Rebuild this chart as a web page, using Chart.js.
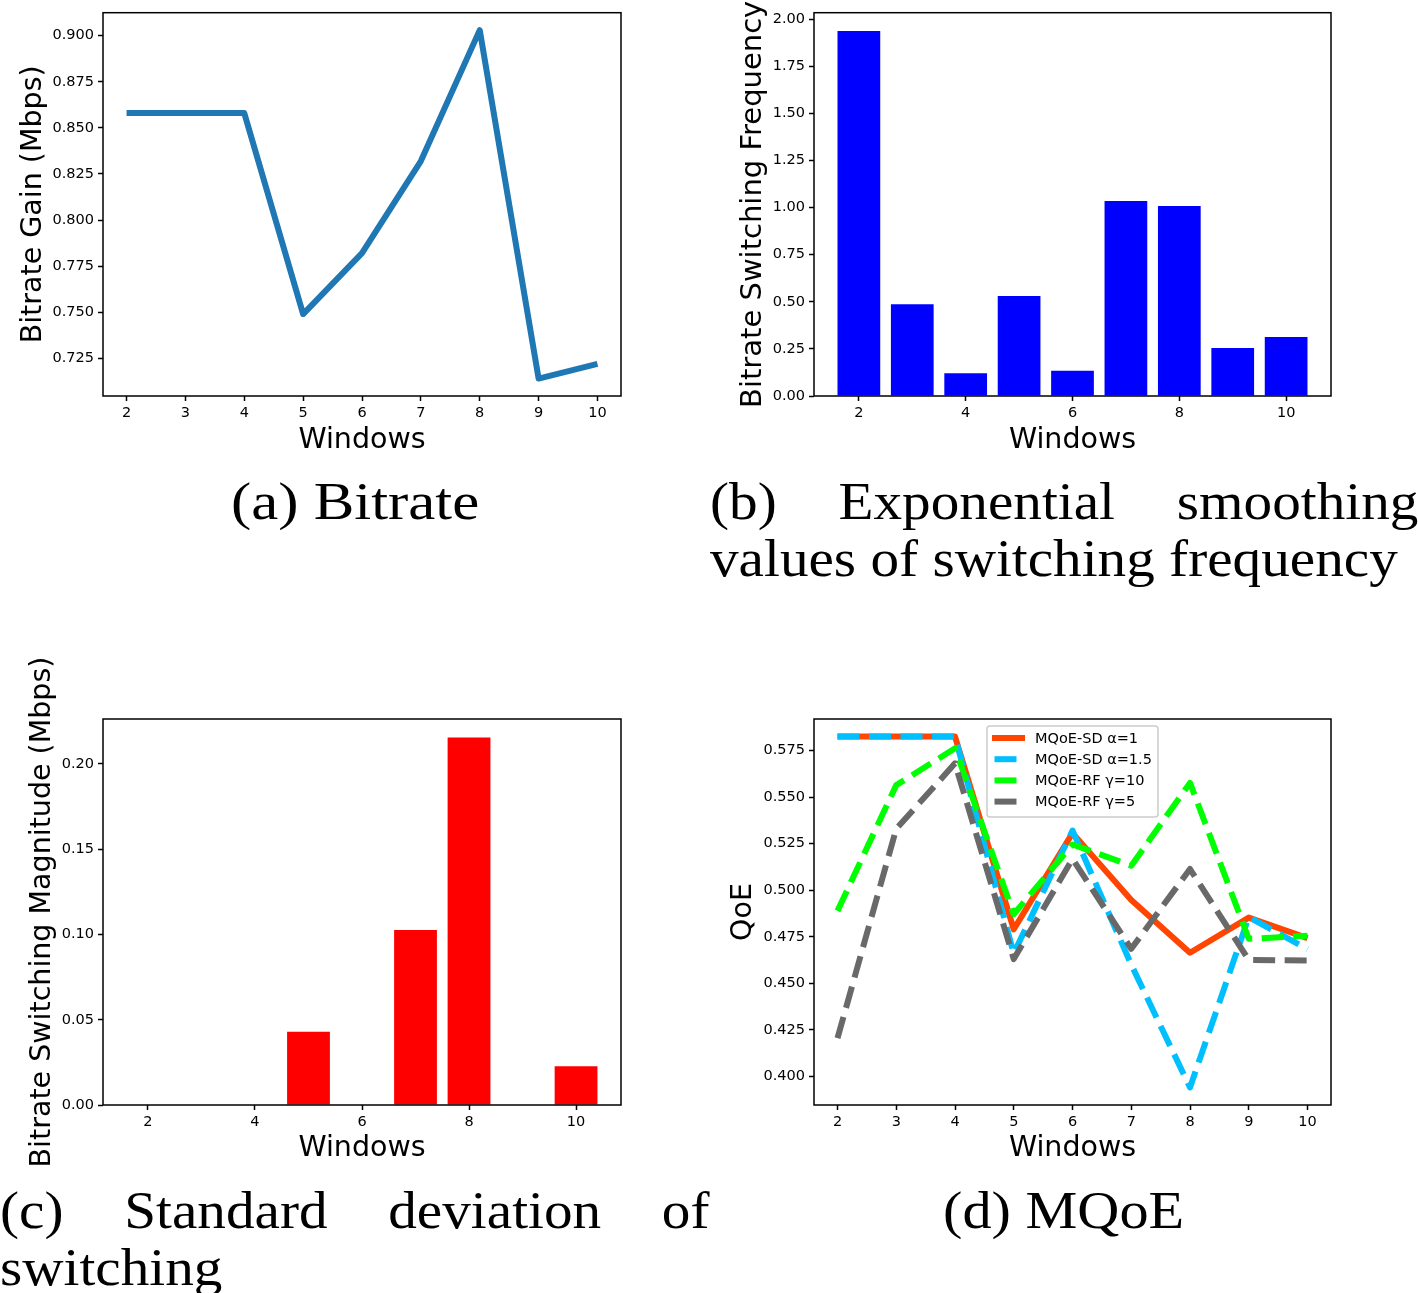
<!DOCTYPE html>
<html>
<head>
<meta charset="utf-8">
<script src="https://cdn.jsdelivr.net/npm/chart.js@4.4.1/dist/chart.umd.min.js"></script>
<style>
  body { margin: 0; background: #fff; width: 1418px; height: 1293px; position: relative; overflow: hidden; }
  canvas { position: absolute; }
  .cap { position: absolute; font-family: "Liberation Serif", serif; font-size: 52px; line-height: 57px; color: #000; }
  .cap.center { text-align: center; }
  .cap.center span { display: inline-block; }
  .cap.just { text-align: justify; transform: scaleX(1.1); transform-origin: left top; }
</style>
</head>
<body>
<canvas id="gainChart" width="660" height="470" style="left:0px;top:0px"></canvas>
<canvas id="freqChart" width="660" height="470" style="left:700px;top:0px"></canvas>
<canvas id="magChart" width="660" height="540" style="left:0px;top:640px"></canvas>
<canvas id="qoeChart" width="660" height="540" style="left:700px;top:640px"></canvas>

<div class="cap center" style="left:0px;top:473px;width:710px"><span style="transform:scaleX(1.17)">(a) Bitrate</span></div>
<div class="cap just" style="left:710px;top:473px;width:644px">(b) Exponential smoothing values of switching frequency</div>
<div class="cap just" style="left:0px;top:1182px;width:645px">(c) Standard deviation of switching</div>
<div class="cap center" style="left:710px;top:1182px;width:708px"><span style="transform:scaleX(1.12)">(d) MQoE</span></div>

<script>
// data
const windows = [2, 3, 4, 5, 6, 7, 8, 9, 10];
const bitrateGain = [0.858, 0.858, 0.858, 0.749, 0.782, 0.832, 0.903, 0.714, 0.722];
const switchFreq = [1.938, 0.487, 0.121, 0.531, 0.134, 1.035, 1.009, 0.255, 0.313];
const switchMag = [0, 0, 0, 0.043, 0, 0.1026, 0.2156, 0, 0.0227];
const qoeSD1 = [0.5826, 0.5826, 0.5826, 0.479, 0.5307, 0.4947, 0.4664, 0.4853, 0.4743];
const qoeSD15 = [0.5826, 0.5826, 0.5826, 0.466, 0.5321, 0.46, 0.394, 0.4856, 0.4683];
const qoeRF10 = [0.4889, 0.5565, 0.5763, 0.4871, 0.5246, 0.5132, 0.5577, 0.4739, 0.4755];
const qoeRF5 = [0.4205, 0.533, 0.5682, 0.463, 0.5168, 0.4685, 0.5114, 0.4625, 0.4622];
const qoeLabels = ["MQoE-SD α=1", "MQoE-SD α=1.5", "MQoE-RF γ=10", "MQoE-RF γ=5"];

// tick labels
const xTicksAll = [2, 3, 4, 5, 6, 7, 8, 9, 10];
const xTicksEven = [2, 4, 6, 8, 10];
const yTicksGain = [0.725, 0.75, 0.775, 0.8, 0.825, 0.85, 0.875, 0.9];
const yTicksFreq = [0, 0.25, 0.5, 0.75, 1.0, 1.25, 1.5, 1.75, 2.0];
const yTicksMag = [0, 0.05, 0.1, 0.15, 0.2];
const yTicksQoe = [0.4, 0.425, 0.45, 0.475, 0.5, 0.525, 0.55, 0.575];

Chart.defaults.font.family = "'DejaVu Sans', sans-serif";
Chart.defaults.color = "#000";

function points(ys) {
  return windows.map((w, i) => ({ x: w, y: ys[i] }));
}

// matplotlib style 5% margins
function lineRange(vals) {
  const lo = Math.min(...vals), hi = Math.max(...vals);
  const m = (hi - lo) * 0.05;
  return [lo - m, hi + m];
}

// box frame round the plot area
const framePlugin = {
  id: "frame",
  afterDraw(chart) {
    const { ctx, chartArea: a } = chart;
    ctx.save();
    ctx.strokeStyle = "#000";
    ctx.lineWidth = 1.5;
    ctx.strokeRect(a.left, a.top, a.right - a.left, a.bottom - a.top);
    ctx.restore();
  },
};

function makeScales(box) {
  const tickGrid = {
    display: true,
    drawOnChartArea: false,
    drawTicks: true,
    tickLength: 5,
    tickWidth: 1.5,
    tickColor: "#000",
    offset: false,
  };
  return {
    x: {
      type: "linear",
      bounds: "data",
      offset: false,
      min: box.xRange[0],
      max: box.xRange[1],
      afterBuildTicks: (s) => { s.ticks = box.xTicks.map((v) => ({ value: v })); },
      afterFit: (s) => { s.height = box.xh; },
      grid: tickGrid,
      border: { display: false },
      ticks: { font: { size: 14.5 }, padding: 4, maxRotation: 0, autoSkip: false, callback: (v) => String(v) },
      title: { display: true, text: "Windows", font: { size: 28.5 }, padding: { top: 0, bottom: box.xTitlePad } },
    },
    y: {
      type: "linear",
      bounds: "data",
      min: box.yRange[0],
      max: box.yRange[1],
      afterBuildTicks: (s) => { s.ticks = box.yTicks.map((v) => ({ value: v })); },
      afterFit: (s) => { s.width = box.yw; },
      grid: tickGrid,
      border: { display: false },
      ticks: { font: { size: 14.5 }, padding: 4, autoSkip: false, callback: (v) => v.toFixed(box.digits) },
      title: { display: true, text: box.yTitle, font: { size: box.yTitleSize || 28.5 }, padding: { top: box.yTitlePad, bottom: 0 } },
    },
  };
}

const baseOptions = (box) => ({
  responsive: false,
  animation: false,
  devicePixelRatio: 1,
  layout: { padding: { top: box.top, right: box.right, bottom: 0, left: 0 } },
  plugins: { legend: { display: false }, tooltip: { enabled: false } },
  scales: makeScales(box),
});

// (a) bitrate gain
function renderGainChart() {
  const box = {
    top: 11, right: 39, yw: 103, xh: 74, xTitlePad: 12, yTitlePad: 16,
    xRange: lineRange(windows), yRange: lineRange(bitrateGain),
    xTicks: xTicksAll, yTicks: yTicksGain, digits: 3, yTitle: "Bitrate Gain (Mbps)",
  };
  new Chart(document.getElementById("gainChart").getContext("2d"), {
    type: "line",
    data: {
      datasets: [{
        data: points(bitrateGain),
        borderColor: "#1f77b4",
        borderWidth: 6,
        pointRadius: 0,
        tension: 0,
        borderJoinStyle: "round",
      }],
    },
    options: baseOptions(box),
    plugins: [framePlugin],
  });
}

// bar charts: width 0.8, margins like matplotlib
function barRangeX() {
  const lo = Math.min(...windows) - 0.4, hi = Math.max(...windows) + 0.4;
  const m = (hi - lo) * 0.05;
  return [lo - m, hi + m];
}

function renderBarChart(id, values, color, box) {
  box.xRange = barRangeX();
  box.yRange = [0, Math.max(...values) * 1.05];
  new Chart(document.getElementById(id).getContext("2d"), {
    type: "bar",
    data: {
      datasets: [{
        data: points(values),
        backgroundColor: color,
        borderWidth: 0,
        barPercentage: 0.8,
        categoryPercentage: 1.0,
      }],
    },
    options: baseOptions(box),
    plugins: [framePlugin],
  });
}

// legend drawn inside the plot, as in the figure
const qoeLegend = {
  id: "qoeLegend",
  afterDraw(chart) {
    const ctx = chart.ctx;
    const bx = 287, by = 86, bw = 171, bh = 91;
    ctx.save();
    ctx.beginPath();
    ctx.roundRect(bx, by, bw, bh, 3);
    ctx.fillStyle = "rgba(255,255,255,0.8)";
    ctx.fill();
    ctx.strokeStyle = "#cccccc";
    ctx.lineWidth = 1.5;
    ctx.stroke();
    chart.data.datasets.forEach((ds, i) => {
      const y = by + 12 + i * 21.2;
      ctx.strokeStyle = ds.borderColor;
      ctx.lineWidth = ds.borderWidth;
      ctx.setLineDash(ds.borderDash || []);
      ctx.lineDashOffset = 29;
      ctx.beginPath();
      ctx.moveTo(bx + 5, y);
      ctx.lineTo(bx + 38, y);
      ctx.stroke();
      ctx.setLineDash([]);
      ctx.fillStyle = "#000";
      ctx.font = "14.5px 'DejaVu Sans'";
      ctx.textBaseline = "middle";
      ctx.fillText(ds.label, bx + 48, y + 1);
    });
    ctx.restore();
  },
};

// (d) MQoE
function renderQoeChart() {
  const all = qoeSD1.concat(qoeSD15, qoeRF10, qoeRF5);
  const box = {
    top: 79, right: 29, yw: 114, xh: 75, xTitlePad: 14, yTitlePad: 26,
    xRange: lineRange(windows), yRange: lineRange(all),
    xTicks: xTicksAll, yTicks: yTicksQoe, digits: 3, yTitle: "QoE",
  };
  const dash = [22, 9.5];
  const styles = [
    { values: qoeSD1, color: "#ff4500", dash: [], order: 4 },
    { values: qoeSD15, color: "#00bfff", dash: dash, order: 3 },
    { values: qoeRF10, color: "#00ff00", dash: dash, order: 2 },
    { values: qoeRF5, color: "#696969", dash: dash, order: 1 },
  ];
  new Chart(document.getElementById("qoeChart").getContext("2d"), {
    type: "line",
    data: {
      datasets: styles.map((s, i) => ({
        label: qoeLabels[i],
        data: points(s.values),
        borderColor: s.color,
        borderWidth: 6,
        borderDash: s.dash,
        pointRadius: 0,
        tension: 0,
        borderJoinStyle: "round",
        order: s.order,
      })),
    },
    options: baseOptions(box),
    plugins: [framePlugin, qoeLegend],
  });
}

renderGainChart();
renderBarChart("freqChart", switchFreq, "#0000ff", {
  top: 11, right: 29, yw: 114, xh: 74, xTitlePad: 12, yTitlePad: 36, yTitleSize: 29,
  xTicks: xTicksEven, yTicks: yTicksFreq, digits: 2, yTitle: "Bitrate Switching Frequency",
});
renderBarChart("magChart", switchMag, "#ff0000", {
  top: 79, right: 39, yw: 103, xh: 75, xTitlePad: 14, yTitlePad: 25,
  xTicks: xTicksEven, yTicks: yTicksMag, digits: 2, yTitle: "Bitrate Switching Magnitude (Mbps)",
});
renderQoeChart();
</script>
</body>
</html>
